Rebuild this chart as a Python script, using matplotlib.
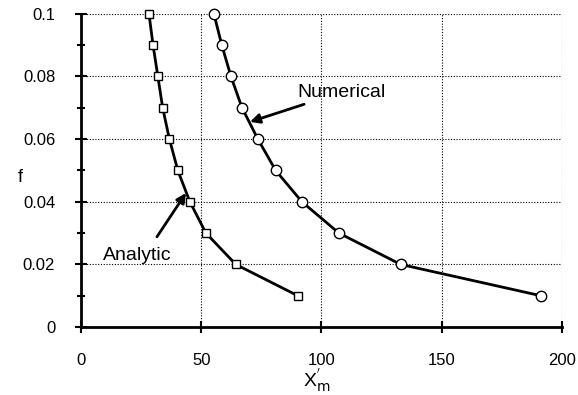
import matplotlib
matplotlib.use("Agg")
import matplotlib.pyplot as plt
from matplotlib.ticker import MultipleLocator

plt.rcParams['font.family'] = ['Liberation Sans', 'DejaVu Sans']

f_vals = [0.1, 0.09, 0.08, 0.07, 0.06, 0.05, 0.04, 0.03, 0.02, 0.01]
x_analytic = [28.3, 30.0, 32.0, 34.0, 36.8, 40.3, 45.3, 52.0, 64.4, 90.2]
x_numerical = [55.3, 58.6, 62.4, 67.0, 73.6, 81.0, 91.9, 107.3, 133.0, 191.3]
xticks = [0, 50, 100, 150, 200]
yticks = [0, 0.02, 0.04, 0.06, 0.08, 0.1]
ytick_labels = ['0', '0.02', '0.04', '0.06', '0.08', '0.1']

fig = plt.figure(figsize=(5.78, 3.95), dpi=100)
ax = fig.add_axes([0.140, 0.172, 0.832, 0.793])

ax.plot(x_analytic, f_vals, color='black', lw=2.0, marker='s', ms=6,
        mfc='white', mec='black', mew=1.0, zorder=3, clip_on=False)
ax.plot(x_numerical, f_vals, color='black', lw=2.0, marker='o', ms=7.5,
        mfc='white', mec='black', mew=1.0, zorder=3, clip_on=False)

ax.set_xlim(0, 200)
ax.set_ylim(0, 0.1)
ax.set_xticks(xticks)
ax.set_yticks(yticks)
ax.set_yticklabels(ytick_labels)
ax.yaxis.set_minor_locator(MultipleLocator(0.01))
ax.grid(True, which='major', color='black', linestyle=(0, (1, 1.5)), lw=0.8)
for s in ['top', 'right']:
    ax.spines[s].set_visible(False)
for s in ['left', 'bottom']:
    ax.spines[s].set_linewidth(2.0)
ax.tick_params(which='major', direction='inout', length=9, width=1.5, labelsize=12)
ax.tick_params(axis='x', which='major', pad=14)
ax.tick_params(axis='y', which='major', pad=14)
ax.tick_params(which='minor', direction='inout', length=6, width=1.5)

ax.set_ylabel('f', fontsize=13, rotation=0, va='center', ha='center')
ax.yaxis.set_label_coords(-0.127, 0.476)
ax.set_xlabel("X$_{\\mathrm{m}}^{'}$", fontsize=14, va='top')
ax.xaxis.set_label_coords(0.49, -0.125)

ax.annotate('Numerical', xy=(70.3, 0.0655), xytext=(90, 0.075),
            fontsize=14, va='center', ha='left',
            arrowprops=dict(arrowstyle='-|>', color='black', lw=2, mutation_scale=14,
                            shrinkA=2, shrinkB=0))
ax.annotate('', xy=(43.7, 0.0428), xytext=(31.6, 0.0288),
            arrowprops=dict(arrowstyle='-|>', color='black', lw=2, mutation_scale=14,
                            shrinkA=0, shrinkB=0))
ax.text(23.3, 0.0228, 'Analytic', fontsize=14, va='center', ha='center')

fig.savefig('out.png', dpi=100)
